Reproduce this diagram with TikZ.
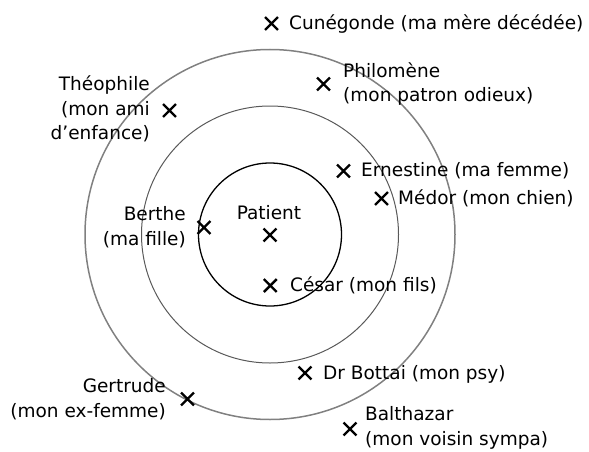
\documentclass[tikz,border=0pt]{standalone}
\usepackage{fontspec}
\setmainfont{DejaVu Sans}
\usetikzlibrary{shapes.misc}
\newcommand{\leftlines}[1]{\begin{tabular}[t]{@{}l@{}}#1\end{tabular}}
\newcommand{\rightlines}[1]{\begin{tabular}[t]{@{}r@{}}#1\end{tabular}}
\begin{document}
\begin{tikzpicture}[x=1pt,y=-1pt,
  every node/.style={inner sep=0pt, font=\fontsize{18.5}{24.5}\selectfont},
  xmark/.style={cross out, draw=black, line width=2.4pt, minimum size=10.5pt, inner sep=0pt},
  ring/.style={circle, draw, fill=none, inner sep=0pt},
  lbl/.style={text=black}]
\useasboundingbox (0,0) rectangle (589,452);
\coordinate (c) at (270,234.5);
% circles
\node[ring, draw=black, line width=1.3pt, minimum size=143pt] (inner) at (c) {};
\node[ring, draw=black!65, line width=1pt, minimum size=257pt] (middle) at (c) {};
\node[ring, draw=black!50, line width=1.5pt, minimum size=370pt] (outer) at (c) {};
% marks
\node[xmark] (mcun) at (271.5,23.5) {};
\node[xmark] (mphi) at (323.5,84) {};
\node[xmark] (mthe) at (169.5,110.5) {};
\node[xmark] (mern) at (343.5,171) {};
\node[xmark] (mmed) at (381.5,198.5) {};
\node[xmark] (mpat) at (270,235) {};
\node[xmark] (mber) at (204,227.5) {};
\node[xmark] (mces) at (270.3,285.5) {};
\node[xmark] (mbot) at (305,373) {};
\node[xmark] (mger) at (187.5,399) {};
\node[xmark] (mbal) at (350,429) {};
% labels
\node[lbl, anchor=base west] (cun) at (289,29.5) {Cunégonde (ma mère décédée)};
\node[lbl, anchor=base west] (phi) at (343,77.3) {\leftlines{Philomène\\(mon patron odieux)}};
\node[lbl, anchor=base east] (the) at (150,90.7) {\rightlines{Théophile\\(mon ami\\d’enfance)}};
\node[lbl, anchor=base west] (ern) at (361,176.7) {Ernestine (ma femme)};
\node[lbl, anchor=base west] (med) at (398,204) {Médor (mon chien)};
\node[lbl, anchor=base] (pat) at (269,219.3) {Patient};
\node[lbl, anchor=base east] (ber) at (186,220.5) {\rightlines{Berthe\\(ma fille)}};
\node[lbl, anchor=base west] (ces) at (290,291.7) {César (mon fils)};
\node[lbl, anchor=base west] (bot) at (323,379) {Dr Bottai (mon psy)};
\node[lbl, anchor=base east] (ger) at (166,392.7) {\rightlines{Gertrude\\(mon ex-femme)}};
\node[lbl, anchor=base west] (bal) at (365,420.7) {\leftlines{Balthazar\\(mon voisin sympa)}};
\end{tikzpicture}
\end{document}
